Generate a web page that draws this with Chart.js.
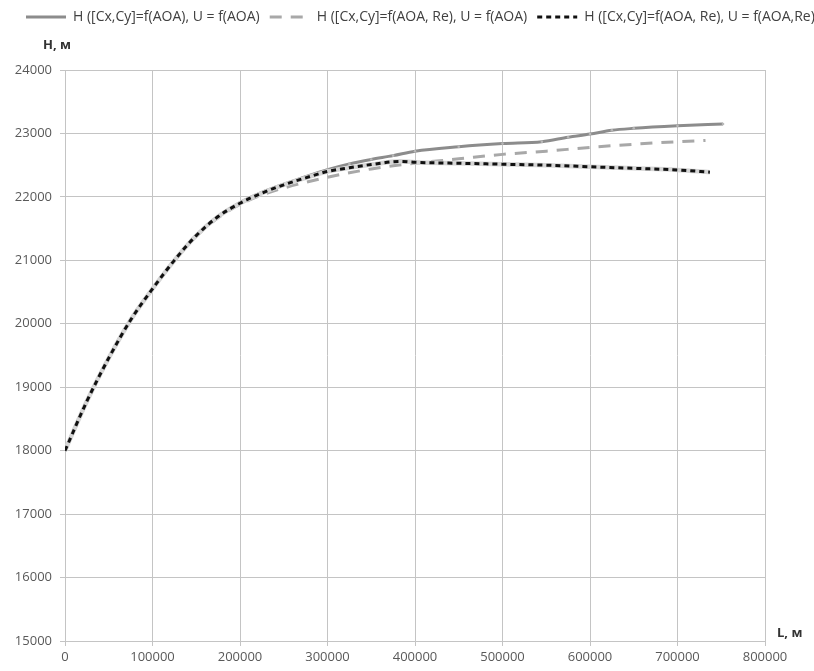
<!DOCTYPE html>
<html>
<head>
<meta charset="utf-8">
<script src="https://cdn.jsdelivr.net/npm/chart.js@4.4.1/dist/chart.umd.min.js"></script>
<style>
  html, body { margin: 0; padding: 0; background: #fff; overflow: hidden; }
  #wrap { width: 814px; height: 671px; overflow: hidden; }
</style>
</head>
<body>
<div id="wrap"><canvas id="chart" width="880" height="671"></canvas></div>
<script>
// distance L, m  /  altitude H, m
const L1 = [0, 25000, 50000, 75000, 100000, 125000, 150000, 175000, 200000, 225000, 250000, 275000, 300000, 325000, 350000, 375000, 400000, 450000, 500000, 545000, 575000, 600000, 625000, 650000, 700000, 752000];
const H1 = [18000, 18780, 19460, 20060, 20550, 21000, 21390, 21690, 21910, 22070, 22200, 22320, 22430, 22520, 22590, 22650, 22720, 22790, 22840, 22870, 22940, 22990, 23050, 23080, 23120, 23150];

const L2 = [0, 25000, 50000, 75000, 100000, 125000, 150000, 175000, 200000, 225000, 250000, 275000, 300000, 325000, 350000, 375000, 400000, 450000, 500000, 550000, 600000, 650000, 700000, 732000];
const H2 = [18000, 18780, 19460, 20060, 20550, 21000, 21380, 21670, 21880, 22030, 22140, 22230, 22310, 22380, 22440, 22490, 22530, 22600, 22670, 22720, 22780, 22830, 22870, 22890];

const L3 = [0, 25000, 50000, 75000, 100000, 125000, 150000, 175000, 200000, 225000, 250000, 275000, 300000, 325000, 350000, 383000, 400000, 450000, 500000, 550000, 600000, 650000, 700000, 737000];
const H3 = [18000, 18780, 19460, 20060, 20550, 21000, 21390, 21690, 21900, 22060, 22190, 22300, 22400, 22460, 22510, 22560, 22545, 22530, 22515, 22500, 22475, 22450, 22425, 22390];

const seriesNames = [
  "H ([Cx,Cy]=f(AOA), U = f(AOA)",
  "H ([Cx,Cy]=f(AOA, Re), U = f(AOA)",
  "H ([Cx,Cy]=f(AOA, Re), U = f(AOA,Re)"
];

const xMin = 0, xMax = 800000, xStep = 100000;
const yMin = 15000, yMax = 24000, yStep = 1000;

function pts(xs, ys) {
  return xs.map((x, i) => ({ x: x, y: ys[i] }));
}

const gridColor = "#c4c4c4";
const tickColor = "#595959";
const fontFam = "'Open Sans', 'Liberation Sans', sans-serif";

// axis captions and legend offset
const extras = {
  id: "extras",
  afterLayout(chart) {
    chart.legend.left = 16;
  },
  afterDraw(chart) {
    const ctx = chart.ctx;
    const a = chart.chartArea;
    ctx.save();
    ctx.fillStyle = "#333";
    ctx.font = "bold 13px " + fontFam;
    ctx.textBaseline = "middle";
    ctx.textAlign = "left";
    ctx.fillText("H, м", a.left - 22, a.top - 25);
    ctx.fillText("L, м", a.right + 12, a.bottom - 8);
    ctx.restore();
  }
};

function legendLabels(chart) {
  const items = Chart.defaults.plugins.legend.labels.generateLabels(chart);
  items.forEach((it) => {
    const ds = chart.data.datasets[it.datasetIndex];
    it.lineWidth = 3;
    it.lineDash = ds.borderDash || [];
    it.strokeStyle = ds.borderColor;
    it.fillStyle = ds.borderColor;
    it.pointStyle = "line";
  });
  return items;
}

const chart = new Chart(document.getElementById("chart").getContext("2d"), {
  type: "line",
  data: {
    datasets: [
      {
        label: seriesNames[0],
        data: pts(L1, H1),
        xAxisID: "x",
        yAxisID: "y",
        borderColor: "#8c8c8c",
        backgroundColor: "#b5b5b5",
        borderWidth: 3,
        pointRadius: 1.3,
        pointBorderWidth: 0,
        pointBackgroundColor: "#b8b8b8",
        cubicInterpolationMode: "monotone",
        order: 4
      },
      {
        label: seriesNames[1],
        data: pts(L2, H2),
        xAxisID: "x",
        yAxisID: "y",
        borderColor: "#a8a8a8",
        borderWidth: 3,
        borderDash: [12, 9],
        pointRadius: 0,
        cubicInterpolationMode: "monotone",
        order: 3
      },
      {
        label: seriesNames[2],
        data: pts(L3, H3),
        xAxisID: "x",
        yAxisID: "y",
        borderColor: "#111111",
        borderWidth: 3,
        borderDash: [5, 4],
        pointRadius: 0,
        cubicInterpolationMode: "monotone",
        order: 1
      },
      {
        label: "_under",
        data: pts(L3, H3),
        xAxisID: "x",
        yAxisID: "y",
        borderColor: "#d6d6d6",
        borderWidth: 4.5,
        pointRadius: 0,
        cubicInterpolationMode: "monotone",
        order: 2
      }
    ]
  },
  options: {
    responsive: false,
    animation: false,
    devicePixelRatio: 1,
    plugins: {
      legend: {
        position: "top",
        align: "start",
        labels: {
          usePointStyle: true,
          pointStyle: "line",
          pointStyleWidth: 40,
          padding: 10,
          color: "#404040",
          font: { family: fontFam, size: 14 },
          generateLabels: legendLabels,
          filter: (item) => item.text !== "_under",
          sort: (a, b) => a.datasetIndex - b.datasetIndex
        }
      },
      tooltip: { enabled: false }
    },
    scales: {
      x: {
        type: "linear",
        position: "bottom",
        min: xMin,
        max: xMax,
        afterFit: (s) => { s.height = 30; },
        ticks: {
          stepSize: xStep,
          color: tickColor,
          padding: 3,
          maxRotation: 0,
          font: { family: fontFam, size: 13 },
          callback: (v) => String(v)
        },
        grid: { color: gridColor, lineWidth: 1, tickLength: 5 },
        border: { color: gridColor }
      },
      y: {
        type: "linear",
        position: "left",
        min: yMin,
        max: yMax,
        afterFit: (s) => { s.width = 65; },
        ticks: {
          stepSize: yStep,
          color: tickColor,
          padding: 8,
          font: { family: fontFam, size: 13 },
          callback: (v) => String(v)
        },
        grid: { color: gridColor, lineWidth: 1, tickLength: 5 },
        border: { color: gridColor }
      },
      top: {
        type: "linear",
        position: "top",
        min: 0,
        max: 1,
        afterFit: (s) => { s.height = 36; },
        ticks: { display: false },
        grid: { display: false, drawTicks: false },
        border: { display: false }
      },
      right: {
        type: "linear",
        position: "right",
        min: 0,
        max: 1,
        afterFit: (s) => { s.width = 115; },
        ticks: { display: false },
        grid: { display: false, drawTicks: false },
        border: { display: false }
      }
    }
  },
  plugins: [extras]
});
</script>
</body>
</html>
